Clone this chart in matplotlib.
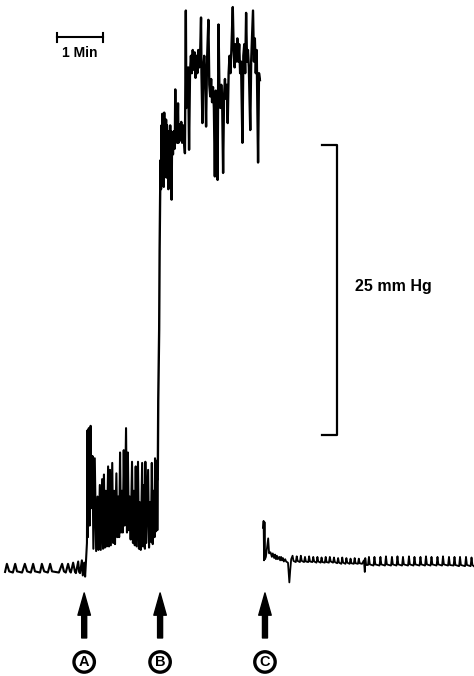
import matplotlib
matplotlib.use("Agg")
import matplotlib.pyplot as plt

# pressure trace, time in minutes, pressure in mmHg above the resting baseline
t_rest = [0.11, 0.15, 0.20, 0.28, 0.33, 0.37, 0.48, 0.54, 0.59, 0.67, 0.72, 0.76, 0.87,
          0.91, 0.96, 1.04, 1.09, 1.13, 1.28, 1.35, 1.39, 1.43, 1.48, 1.52, 1.54,
          1.59, 1.63, 1.65, 1.70, 1.72, 1.74, 1.78, 1.80, 1.83]
p_rest = [0.0, 0.7, 0.05, -0.05, 0.7, 0.05, -0.05, 0.7, 0.05, -0.05, 0.7, 0.05, -0.05,
          0.7, 0.05, -0.05, 0.7, 0.05, -0.05, 0.7, 0.05, -0.05, 0.7, 0.05, -0.05,
          0.8, 0.0, -0.1, 0.9, 0.0, -0.1, 1.0, -0.3, 0.8]

# after drug A
t_a = [1.85, 1.87, 1.89, 1.90, 1.91, 1.93, 1.95, 1.97, 1.99, 2.01, 2.03, 2.06, 2.09,
       2.12, 2.14, 2.17, 2.19, 2.22, 2.24, 2.26, 2.28, 2.30, 2.32, 2.35, 2.37, 2.39,
       2.41, 2.44, 2.46, 2.48, 2.50, 2.53, 2.55, 2.57, 2.59, 2.61, 2.63, 2.65, 2.67,
       2.69, 2.71, 2.74, 2.76, 2.78, 2.80, 2.82, 2.84, 2.87, 2.89, 2.91, 2.93, 2.95,
       2.97, 3.00, 3.02, 3.04, 3.06, 3.09, 3.11, 3.13, 3.15, 3.16, 3.18, 3.22, 3.24,
       3.26, 3.28, 3.30, 3.32, 3.34, 3.36, 3.37, 3.39, 3.41, 3.42, 3.43]
p_a = [-0.4, 1.0, 2.5, 12.2, 3.0, 12.4, 4.0, 12.6, 5.5, 10.0, 2.0, 9.8, 1.8,
       6.5, 1.9, 7.5, 1.9, 8.0, 2.0, 8.4, 2.1, 7.0, 2.2, 9.1, 2.2, 8.8,
       2.3, 9.4, 2.5, 7.0, 2.4, 8.5, 3.0, 6.5, 3.0, 10.3, 3.4, 7.0, 3.4,
       10.5, 4.0, 12.4, 3.4, 10.3, 3.6, 6.5, 2.8, 9.5, 2.5, 7.0, 2.3, 9.1,
       2.2, 9.5, 2.0, 6.0, 1.9, 9.4, 2.2, 7.5, 2.0, 9.5, 2.5, 8.8, 2.1,
       6.0, 2.6, 9.4, 2.4, 7.0, 3.0, 9.8, 3.5, 9.6, 3.6, 8.0]

# after drug B
t_b = [3.44, 3.46, 3.47, 3.48, 3.49, 3.50, 3.51, 3.52, 3.53, 3.54, 3.55, 3.56, 3.57,
       3.58, 3.59, 3.60, 3.61, 3.62, 3.63, 3.64, 3.65, 3.66, 3.67, 3.68, 3.70, 3.71,
       3.72, 3.73, 3.74, 3.76, 3.78, 3.80, 3.81, 3.82, 3.84, 3.85, 3.87, 3.88, 3.90,
       3.92, 3.94, 3.96, 3.98, 4.00, 4.02, 4.04, 4.05, 4.07, 4.09, 4.11, 4.13, 4.15,
       4.17, 4.19, 4.21, 4.23, 4.25, 4.27, 4.29, 4.31, 4.33, 4.35, 4.37, 4.38, 4.40,
       4.42, 4.44, 4.46, 4.48, 4.50, 4.53, 4.55, 4.57, 4.59, 4.61, 4.63, 4.65, 4.67,
       4.69, 4.71, 4.73, 4.75, 4.77, 4.79, 4.81, 4.83, 4.85, 4.87, 4.89, 4.91, 4.93,
       4.95, 4.97, 4.99, 5.01, 5.03, 5.06, 5.08, 5.10, 5.12, 5.14, 5.16, 5.18, 5.20,
       5.22, 5.24, 5.27, 5.29, 5.31, 5.33, 5.35, 5.37, 5.39, 5.41, 5.44, 5.46, 5.50,
       5.52, 5.54, 5.56, 5.58, 5.61, 5.63, 5.65]
p_b = [14.8, 20.9, 27.8, 32.0, 35.5, 33.0, 38.5, 33.5, 39.5, 34.0, 38.0, 33.2, 39.6,
       34.5, 38.8, 35.0, 39.0, 34.0, 38.5, 35.5, 38.0, 33.0, 37.5, 35.0, 38.5, 36.0,
       38.0, 32.1, 37.5, 36.0, 38.0, 36.5, 41.6, 37.5, 38.5, 37.0, 40.4, 37.0, 38.6,
       37.2, 38.8, 37.0, 38.5, 37.3, 36.1, 48.4, 40.0, 42.0, 43.5, 36.4, 43.0, 44.5,
       43.0, 45.0, 43.3, 44.8, 42.6, 44.5, 43.0, 45.0, 43.5, 44.5, 47.8, 43.0, 38.7,
       43.5, 44.5, 42.5, 38.4, 44.0, 47.6, 42.0, 41.0, 42.5, 40.5, 41.8, 40.0, 34.1,
       41.5, 40.0, 33.8, 47.2, 41.5, 40.0, 42.0, 40.5, 34.4, 41.0, 42.5, 40.8, 42.0,
       38.7, 43.0, 44.5, 43.0, 45.0, 48.7, 45.0, 43.5, 45.5, 44.0, 46.0, 44.0, 45.5,
       43.0, 44.0, 37.0, 44.5, 45.5, 43.0, 48.2, 44.0, 45.0, 43.5, 38.1, 44.0, 48.4,
       44.0, 46.0, 43.0, 45.0, 35.3, 43.0, 42.4]

# after drug C
t_c = [5.72, 5.73, 5.74, 5.75, 5.76, 5.78, 5.83, 5.85, 5.88, 5.91, 5.93, 5.96, 5.98,
       6.00, 6.02, 6.04, 6.07, 6.09, 6.11, 6.13, 6.15, 6.17, 6.20, 6.22, 6.26, 6.29,
       6.31, 6.33,
       6.36, 6.38, 6.43, 6.45, 6.47, 6.52, 6.54, 6.56, 6.61, 6.63, 6.65, 6.70,
       6.72, 6.74, 6.79, 6.81, 6.83, 6.88, 6.90, 6.92, 6.97, 6.99, 7.01, 7.06,
       7.08, 7.10, 7.15, 7.17, 7.19, 7.24, 7.26, 7.28, 7.33, 7.35, 7.37, 7.42,
       7.44, 7.46, 7.51, 7.53, 7.55, 7.60, 7.62, 7.64, 7.69, 7.71, 7.73, 7.78,
       7.80, 7.82, 7.87, 7.91, 7.93, 7.94, 7.96, 8.00,
       8.02, 8.04, 8.12, 8.14, 8.16, 8.25, 8.27, 8.29, 8.37, 8.39, 8.41, 8.50,
       8.52, 8.54, 8.62, 8.64, 8.66, 8.74, 8.76, 8.78, 8.87, 8.89, 8.91, 8.99,
       9.01, 9.03, 9.12, 9.14, 9.16, 9.24, 9.26, 9.28, 9.36, 9.38, 9.40, 9.49,
       9.51, 9.53, 9.61, 9.63, 9.65, 9.74, 9.76, 9.78, 9.86, 9.88, 9.90, 9.98,
       10.00, 10.02, 10.11, 10.13, 10.15, 10.23, 10.25, 10.27, 10.30]
p_c = [3.8, 4.4, 1.0, 4.3, 1.1, 1.3, 2.9, 1.6, 1.7, 1.3, 1.6, 1.2, 1.5,
       1.1, 1.4, 1.1, 1.3, 1.0, 1.3, 1.0, 1.2, 0.9, 1.1, 0.9, 0.8, -0.9,
       0.2, 1.1,
       1.4, 0.95, 0.85, 1.35, 0.95, 0.85, 1.4, 0.95, 0.85, 1.3, 0.9, 0.85,
       1.35, 0.9, 0.85, 1.3, 0.9, 0.8, 1.3, 0.9, 0.8, 1.25, 0.85, 0.8,
       1.3, 0.85, 0.8, 1.3, 0.9, 0.8, 1.25, 0.85, 0.75, 1.2, 0.8, 0.7,
       1.25, 0.8, 0.7, 1.2, 0.8, 0.7, 1.15, 0.75, 0.7, 1.2, 0.75, 0.7,
       1.15, 0.75, 0.7, 1.0, 0.0, 1.2, 0.6, 0.6,
       1.3, 0.65, 0.55, 1.3, 0.65, 0.55, 1.3, 0.65, 0.55, 1.35, 0.65, 0.55,
       1.3, 0.65, 0.55, 1.35, 0.65, 0.55, 1.3, 0.65, 0.55, 1.35, 0.65, 0.55,
       1.3, 0.65, 0.55, 1.3, 0.65, 0.55, 1.35, 0.65, 0.55, 1.3, 0.65, 0.55,
       1.3, 0.65, 0.55, 1.35, 0.65, 0.55, 1.3, 0.6, 0.55, 1.3, 0.6, 0.5,
       1.3, 0.6, 0.5, 1.3, 0.6, 0.5, 1.25, 0.6, 0.5]

event_times = [1.83, 3.48, 5.76]
event_labels = ["A", "B", "C"]

time_bar = [1.24, 2.24]      # 1 min
pressure_bar = [11.8, 36.8]  # 25 mm Hg

fig = plt.figure(figsize=(4.74, 6.76), dpi=100)
ax = fig.add_axes([0, 0, 1, 1])
ax.set_xlim(0, 10.304)
ax.set_ylim(-8.97, 49.31)
ax.axis("off")

ax.plot(t_rest + t_a, p_rest + p_a, color="black", lw=1.5)
ax.plot(t_a[-1:] + t_b, p_a[-1:] + p_b, color="black", lw=1.7)
ax.plot(t_c, p_c, color="black", lw=1.3)

# time scale bar
ax.plot(time_bar, [46.1, 46.1], color="black", lw=1.5)
for tb in time_bar:
    ax.plot([tb, tb], [45.7, 46.5], color="black", lw=1.5)
ax.text(sum(time_bar) / 2, 44.75, "1 Min", ha="center", va="center",
        fontsize=10, fontweight="bold", family="Liberation Sans")

# pressure scale bracket
ax.plot([6.99, 7.33, 7.33, 6.99], [pressure_bar[1], pressure_bar[1], pressure_bar[0], pressure_bar[0]],
        color="black", lw=1.6)
ax.text(7.72, 24.6, "25 mm Hg", ha="left", va="center",
        fontsize=11.5, fontweight="bold", family="Liberation Sans")

# drug arrows
for t, lab in zip(event_times, event_labels):
    ax.annotate("", xy=(t, -1.81), xytext=(t, -5.69),
                arrowprops=dict(width=3.6, headwidth=9, headlength=16, color="black", shrink=0))
    ax.text(t, -7.76, lab, ha="center", va="center", fontsize=10.5, fontweight="bold",
            family="Liberation Sans",
            bbox=dict(boxstyle="circle,pad=0.22", fc="white", ec="black", lw=2.4))

fig.savefig("out.png", dpi=100)
